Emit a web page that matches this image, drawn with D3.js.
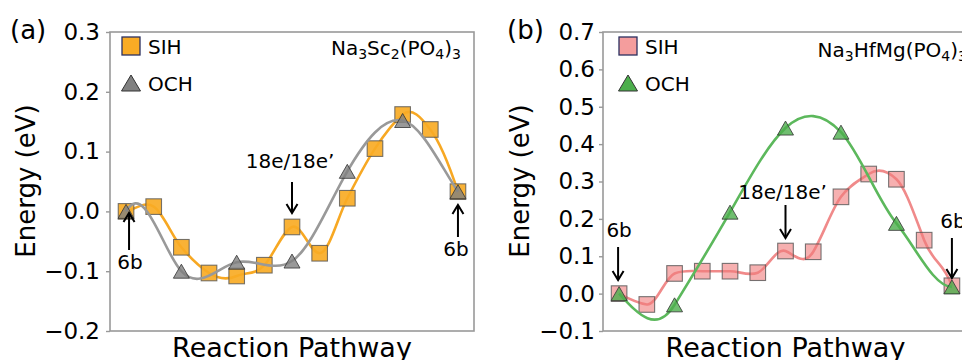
<!DOCTYPE html>
<html>
<head>
<meta charset="utf-8">
<script src="https://d3js.org/d3.v7.min.js"></script>
<style>
  body { margin: 0; background: #fff; }
  svg text { font-family: "DejaVu Sans", sans-serif; fill: #000; }
</style>
</head>
<body>
<svg id="chart" width="962" height="360"></svg>
<script>
    // reaction steps (image index along the pathway)
    var steps = [0, 1, 2, 3, 4, 5, 6, 7, 8, 9, 10, 11, 12];
    var ochSteps = [0, 2, 4, 6, 8, 10, 12];

    // (a) Na3Sc2(PO4)3 : energies and the slope of the fitted curve at each image (eV per step)
    var sihA = [0.000, 0.008, -0.060, -0.103, -0.108, -0.090, -0.026, -0.070, 0.022, 0.105, 0.162, 0.137, 0.033];
    var sihSlopeA = [0.01, -0.03, -0.055, -0.03, 0.02, 0.05, 0.02, 0.0, 0.09, 0.07, 0.04, -0.06, -0.14];
    var ochA = [0.000, -0.100, -0.085, -0.083, 0.067, 0.152, 0.033];
    var ochSlopeA = [0.08, -0.05, 0.01, 0.03, 0.08, -0.01, -0.07];
    var ticksA = [-0.2, -0.1, 0.0, 0.1, 0.2, 0.3];

    // (b) Na3HfMg(PO4)3
    var sihB = [0.000, -0.029, 0.054, 0.060, 0.060, 0.056, 0.114, 0.112, 0.259, 0.320, 0.306, 0.143, 0.021];
    var sihSlopeB = [-0.04, -0.01, 0.03, 0.0, 0.0, 0.03, -0.03, 0.12, 0.10, 0.05, -0.07, -0.19, -0.20];
    var ochB = [0.000, -0.030, 0.218, 0.443, 0.432, 0.188, 0.018];
    var ochSlopeB = [-0.08, 0.12, 0.13, 0.07, -0.08, -0.09, 0.0];
    var ticksB = [-0.1, 0.0, 0.1, 0.2, 0.3, 0.4, 0.5, 0.6, 0.7];

    var svg = d3.select("#chart");
    var plotTop = 32, plotBottom = 331;

    // cubic hermite through the points, using the given slopes
    function hermitePath(xs, ys, ms, x, y) {
        var p = d3.path();
        p.moveTo(x(xs[0]), y(ys[0]));
        for (var i = 1; i < xs.length; i++) {
            var h = (xs[i] - xs[i - 1]) / 3;
            p.bezierCurveTo(
                x(xs[i - 1] + h), y(ys[i - 1] + ms[i - 1] * h),
                x(xs[i] - h), y(ys[i] - ms[i] * h),
                x(xs[i]), y(ys[i]));
        }
        return p.toString();
    }

    function drawPanel(p) {
        var g = svg.append("g");
        var x = d3.scaleLinear().domain([-0.58, 12.58]).range([p.left, p.right]);
        var y = d3.scaleLinear().domain(p.yDomain).range([plotBottom, plotTop]);

        // frame
        g.append("rect")
            .attr("x", p.left).attr("y", plotTop)
            .attr("width", p.right - p.left).attr("height", plotBottom - plotTop)
            .attr("fill", "none").attr("stroke", "#999").attr("stroke-width", 1.6);

        var ax = g.append("g")
            .attr("transform", "translate(" + p.left + ",0)")
            .call(d3.axisLeft(y).tickValues(p.ticks).tickFormat(d3.format(".1f")).tickSize(4).tickPadding(p.pad));
        ax.select(".domain").remove();
        ax.selectAll(".tick line").attr("stroke", "#999").attr("stroke-width", 1.4);
        ax.selectAll(".tick text").style("font-size", "23px").style("font-family", "DejaVu Sans");

        // panel letter
        g.append("text").attr("x", p.letterX).attr("y", 39)
            .style("font-size", "26px").text(p.letter);

        // axis titles
        g.append("text")
            .attr("transform", "translate(" + p.titleX + ",181) rotate(-90)")
            .attr("text-anchor", "middle")
            .style("font-size", "26px").text("Energy (eV)");
        g.append("text")
            .attr("x", (p.left + p.right) / 2).attr("y", 357)
            .attr("text-anchor", "middle")
            .style("font-size", "27px").text("Reaction Pathway");

        var sih = steps.map(function(s, i) { return [s, p.sih[i]]; });
        var och = ochSteps.map(function(s, i) { return [s, p.och[i]]; });

        g.append("path").attr("d", hermitePath(steps, p.sih, p.sihSlope, x, y))
            .attr("fill", "none").attr("stroke", p.sihLine).attr("stroke-width", 2.6);
        g.selectAll(".sq").data(sih).enter().append("rect")
            .attr("x", function(d) { return x(d[0]) - 7.8; })
            .attr("y", function(d) { return y(d[1]) - 7.8; })
            .attr("width", 15.6).attr("height", 15.6)
            .attr("fill", p.sihFill).attr("fill-opacity", p.sihAlpha)
            .attr("stroke", "#555").attr("stroke-opacity", 0.8).attr("stroke-width", 1.1);

        g.append("path").attr("d", hermitePath(ochSteps, p.och, p.ochSlope, x, y))
            .attr("fill", "none").attr("stroke", p.ochLine).attr("stroke-width", 2.6);
        var tri = "M0,-7L8,7L-8,7Z";
        g.selectAll(".tri").data(och).enter().append("path")
            .attr("d", tri)
            .attr("transform", function(d) { return "translate(" + x(d[0]) + "," + y(d[1]) + ")"; })
            .attr("fill", p.ochFill).attr("fill-opacity", 0.8)
            .attr("stroke", "#333").attr("stroke-opacity", 0.8).attr("stroke-width", 1);

        // legend
        var lx = p.left + p.legDx;
        g.append("rect").attr("x", lx - 9).attr("y", 37).attr("width", 18).attr("height", 18)
            .attr("fill", p.sihFill).attr("fill-opacity", p.legAlpha)
            .attr("stroke", "#2b3060").attr("stroke-width", 1.3);
        g.append("path").attr("d", "M0,-8L9.5,8L-9.5,8Z")
            .attr("transform", "translate(" + lx + ",83)")
            .attr("fill", p.ochFill).attr("stroke", "#333").attr("stroke-width", 1);
        g.append("text").attr("x", lx + 17).attr("y", 54).style("font-size", "20px").text("SIH");
        g.append("text").attr("x", lx + 17).attr("y", 91).style("font-size", "20px").text("OCH");

        // compound label
        var f = g.append("text").attr("x", p.formulaX).attr("y", p.formulaY)
            .attr("text-anchor", "end").style("font-size", "20px");
        p.formula.forEach(function(part) {
            var t = f.append("tspan").text(part[0]);
            if (part[1]) t.attr("baseline-shift", "-25%").style("font-size", "14px");
        });

        // arrows with labels
        p.notes.forEach(function(n) {
            var ax0 = x(n.step) + n.dx;
            var dir = n.tip > n.tail ? 1 : -1;
            g.append("line").attr("x1", ax0).attr("x2", ax0)
                .attr("y1", n.tail).attr("y2", n.tip - dir)
                .attr("stroke", "#000").attr("stroke-width", 2);
            g.append("path")
                .attr("d", "M" + (ax0 - 5.5) + "," + (n.tip - dir * 9) + "L" + ax0 + "," + n.tip + "L" + (ax0 + 5.5) + "," + (n.tip - dir * 9))
                .attr("fill", "none").attr("stroke", "#000").attr("stroke-width", 2);
            g.append("text").attr("x", ax0 + n.tx).attr("y", n.ty)
                .attr("text-anchor", "middle").style("font-size", "20px").text(n.label);
        });
    }

    drawPanel({
        letter: "(a)", letterX: 10, titleX: 35, legDx: 21,
        left: 110, right: 474, yDomain: [-0.2, 0.3], ticks: ticksA, pad: 6,
        sih: sihA, sihSlope: sihSlopeA, och: ochA, ochSlope: ochSlopeA,
        sihFill: "#f9ab25", sihAlpha: 0.92, legAlpha: 1, sihLine: "#f7a823",
        ochFill: "#808080", ochLine: "#999999",
        formulaX: 461, formulaY: 55,
        formula: [["Na"], ["3", 1], ["Sc"], ["2", 1], ["(PO"], ["4", 1], [")"], ["3", 1]],
        notes: [
            { step: 0, dx: 3, tip: 213, tail: 250, label: "6b", tx: 1, ty: 269 },
            { step: 6, dx: 0, tip: 213, tail: 182, label: "18e/18e\u2019", tx: -2, ty: 168 },
            { step: 12, dx: 0, tip: 205, tail: 237, label: "6b", tx: -2, ty: 256 }
        ]
    });

    drawPanel({
        letter: "(b)", letterX: 507, titleX: 529, legDx: 25,
        left: 603, right: 968, yDomain: [-0.1, 0.7], ticks: ticksB, pad: 4,
        sih: sihB, sihSlope: sihSlopeB, och: ochB, ochSlope: ochSlopeB,
        sihFill: "#f07c7c", sihAlpha: 0.6, legAlpha: 0.75, sihLine: "#f08a8a",
        ochFill: "#4cae4c", ochLine: "#5cb85c",
        formulaX: 967, formulaY: 57,
        formula: [["Na"], ["3", 1], ["HfMg(PO"], ["4", 1], [")"], ["3", 1]],
        notes: [
            { step: 0, dx: -1, tip: 280, tail: 247, label: "6b", tx: 1, ty: 237 },
            { step: 6, dx: 0, tip: 238, tail: 205, label: "18e/18e\u2019", tx: -3, ty: 199 },
            { step: 12, dx: 0, tip: 278, tail: 238, label: "6b", tx: 1, ty: 228 }
        ]
    });
</script>
</body>
</html>
